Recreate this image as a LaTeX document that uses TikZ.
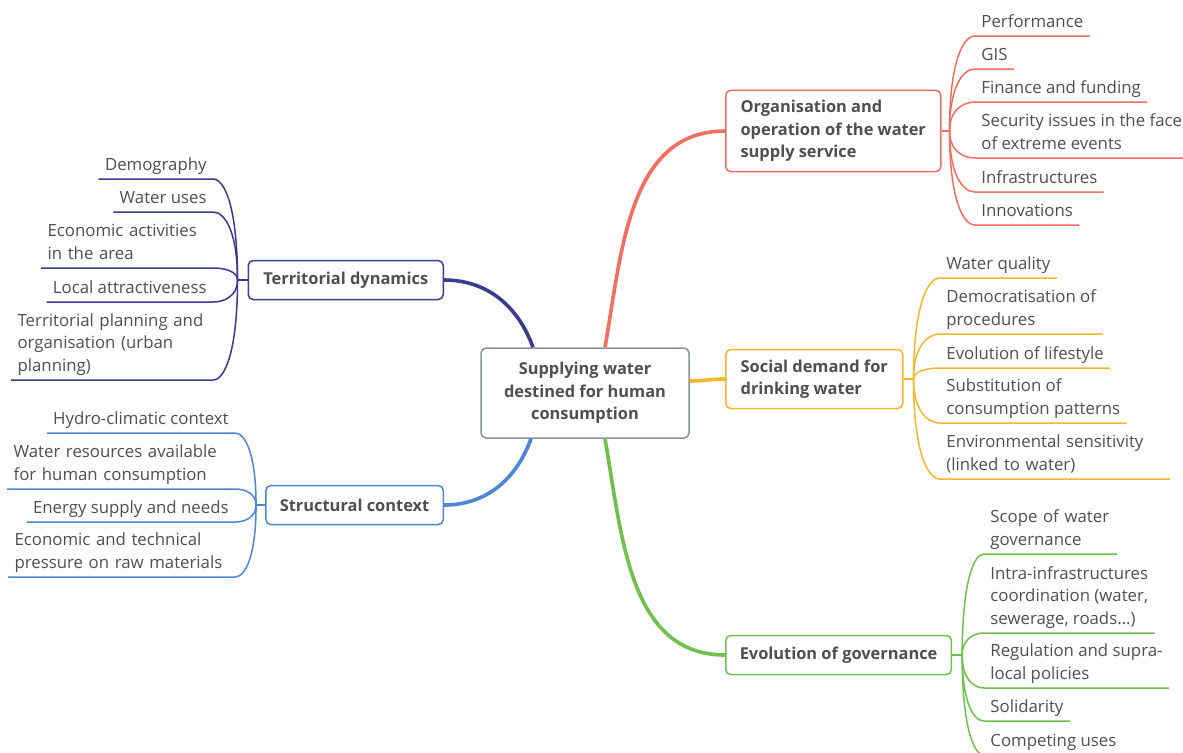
\documentclass[tikz,border=0pt]{standalone}
\usepackage{fontspec}
\setmainfont{Open Sans}
\usetikzlibrary{calc}
\definecolor{orgred}{HTML}{F26E5E}
\definecolor{socyellow}{HTML}{F5B62A}
\definecolor{govgreen}{HTML}{6DC14C}
\definecolor{terrpurple}{HTML}{3C3A8E}
\definecolor{structblue}{HTML}{4C86D5}
\definecolor{centregray}{HTML}{8D90A0}
\definecolor{inkgray}{HTML}{4F4F4F}
\tikzset{
    topic/.style={draw, rounded corners=2.5pt, line width=0.75pt, fill=white, inner xsep=7pt, inner ysep=5pt,
            minimum height=19.5pt, align=left, text=inkgray, font=\fontsize{8.2}{11.25}\selectfont\bfseries},
    leaf/.style={inner xsep=3pt, inner ysep=2.75pt, text depth=1.5pt, align=left, text=inkgray,
            font=\fontsize{8.4}{11.25}\selectfont},
    % wrapped leaves: the box hangs from its first line
    wrap2/.style={text width=#1, text depth=12.75pt},
    twig/.style={line width=0.75pt},
    branch/.style={line width=1.8pt}
}
\begin{document}
\begin{tikzpicture}[x=0.5pt, y=-0.5pt]
            \fill[white] (0,0) rectangle (1183,752);
            \useasboundingbox (0,0) rectangle (1183,752);
            % main boxes
            \node[topic, draw=centregray, align=center, minimum width=104pt, minimum height=45pt] (centre) at (585,393) {Supplying water\\destined for human\\consumption};
            \node[topic, draw=orgred, anchor=west, minimum width=107.5pt] (org) at (725,131) {Organisation and\\operation of the water\\supply service};
            \node[topic, draw=socyellow, anchor=west, minimum width=88.5pt] (soc) at (725,379) {Social demand for\\drinking water};
            \node[topic, draw=govgreen, anchor=west, minimum width=111pt] (gov) at (725,655) {Evolution of governance};
            \node[topic, draw=terrpurple, anchor=east, minimum width=97.5pt] (terr) at (444,280) {Territorial dynamics};
            \node[topic, draw=structblue, anchor=east, minimum width=86.5pt] (struct) at (444,505) {Structural context};
            % branches
            \draw[branch, orgred] ([xshift=10pt]centre.north) to[out=80, in=180] (org.west);
            \draw[branch, socyellow] ([yshift=6pt]centre.east) to[out=0, in=180] (soc.west);
            \draw[branch, govgreen] ([xshift=10pt]centre.south) to[out=-80, in=180] (gov.west);
            \draw[branch, terrpurple] ([xshift=-26pt]centre.north) to[out=110, in=0] (terr.east);
            \draw[branch, structblue] ([xshift=-27pt]centre.south) to[out=-110, in=0] (struct.east);
            % hubs
            \coordinate (ohub) at ([xshift=4pt]org.east);
            \coordinate (shub) at ([xshift=5pt]soc.east);
            \coordinate (ghub) at ([xshift=5pt]gov.east);
            \coordinate (thub) at ([xshift=-5pt]terr.west);
            \coordinate (chub) at ([xshift=-4.5pt]struct.west);
            \draw[twig, orgred] (org.east) -- (ohub);
            \draw[twig, socyellow] (soc.east) -- (shub);
            \draw[twig, govgreen] (gov.east) -- (ghub);
            \draw[twig, terrpurple] (terr.west) -- (thub);
            \draw[twig, structblue] (struct.west) -- (chub);
            % leaves, right side
            \node[leaf, anchor=south west] (o1) at (975,36) {Performance};
            \node[leaf, anchor=south west] (o2) at (975,69) {GIS};
            \node[leaf, anchor=south west] (o3) at (975,102) {Finance and funding};
            \node[leaf, anchor=south west] (o4) at (975,158) {Security issues in the face\\of extreme events};
            \node[leaf, anchor=south west] (o5) at (975,192) {Infrastructures};
            \node[leaf, anchor=south west] (o6) at (975,225) {Innovations};
            \node[leaf, anchor=south west] (s1) at (940,278) {Water quality};
            \node[leaf, anchor=south west] (s2) at (940,334) {Democratisation of\\procedures};
            \node[leaf, anchor=south west] (s3) at (940,368) {Evolution of lifestyle};
            \node[leaf, anchor=south west] (s4) at (940,423) {Substitution of\\consumption patterns};
            \node[leaf, anchor=south west, wrap2=108.5pt] (s5) at (940,479) {Environmental sensitivity\\(linked to water)};
            \node[leaf, anchor=south west, wrap2=60pt] (g1) at (984,554) {Scope of water\\governance};
            \node[leaf, anchor=south west] (g2) at (984,633) {Intra-infrastructures\\coordination (water,\\sewerage, roads...)};
            \node[leaf, anchor=south west] (g3) at (984,688) {Regulation and supra-\\local policies};
            \node[leaf, anchor=south west] (g4) at (984,721) {Solidarity};
            \node[leaf, anchor=south west] (g5) at (984,755) {Competing uses};
            % leaves, left side
            \node[leaf, anchor=south east] (t1) at (213,179) {Demography};
            \node[leaf, anchor=south east] (t2) at (213,212) {Water uses};
            \node[leaf, anchor=south east, wrap2=79.5pt] (t3) at (213,268) {Economic activities\\in the area};
            \node[leaf, anchor=south east] (t4) at (213,302) {Local attractiveness};
            \node[leaf, anchor=south east, wrap2=94.5pt, text depth=24pt] (t5) at (213,380) {Territorial planning and\\organisation (urban\\planning)};
            \node[leaf, anchor=south east] (c1) at (235,433) {Hydro-climatic context};
            \node[leaf, anchor=south east, wrap2=107.5pt] (c2) at (235,489) {Water resources available\\for human consumption};
            \node[leaf, anchor=south east] (c3) at (235,522) {Energy supply and needs};
            \node[leaf, anchor=south east, wrap2=107pt] (c4) at (235,577) {Economic and technical\\pressure on raw materials};
            % twigs
            \foreach \h \c \l in {ohub/orgred/{o1,o2,o3,o4,o5,o6}, shub/socyellow/{s1,s2,s3,s4,s5}, ghub/govgreen/{g1,g2,g3,g4,g5}}{
                    \foreach \n in \l {
                            \draw[twig, \c] (\h) .. controls ($(\h)!0.7!(\h |- \n.south west)$) and ($(\h |- \n.south west)!0.5!(\n.south west)$) .. (\n.south west) -- (\n.south east);
                        }
                }
            \foreach \h \c \l in {thub/terrpurple/{t1,t2,t3,t4,t5}, chub/structblue/{c1,c2,c3,c4}}{
                    \foreach \n in \l {
                            \draw[twig, \c] (\h) .. controls ($(\h)!0.7!(\h |- \n.south east)$) and ($(\h |- \n.south east)!0.5!(\n.south east)$) .. (\n.south east) -- (\n.south west);
                        }
                }
        \end{tikzpicture}
\end{document}
